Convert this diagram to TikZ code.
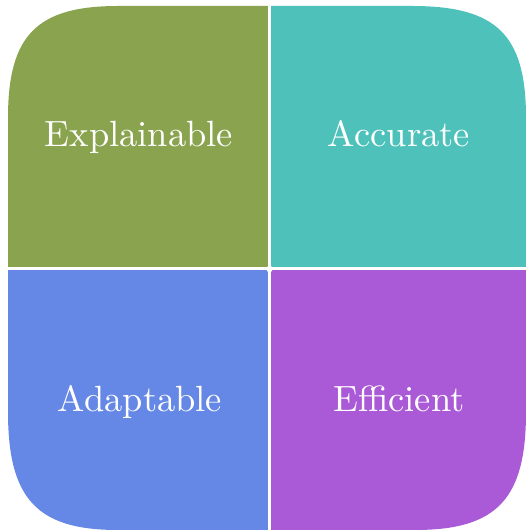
\documentclass[tikz,border=0pt]{standalone}
\begin{document}
\begin{tikzpicture}[x=1pt,y=1pt,
  label text/.style={text=white, scale=3.65, anchor=base, inner sep=0pt},
  divider/.style={white, line width=3pt}]
\definecolor{qgreen}{HTML}{8AA34F}
\definecolor{qteal}{HTML}{4DC1BA}
\definecolor{qblue}{HTML}{6587E5}
\definecolor{qpurple}{HTML}{AA5AD6}
\useasboundingbox (0,0) rectangle (526,530);
% outer rounded square with smooth (squircle-like) corners
\begin{scope}
  \clip (8,118) -- (8,412)
    .. controls (8,494) and (36,524) .. (118,524) -- (412,524)
    .. controls (497,524) and (526,495) .. (526,412) -- (526,118)
    .. controls (526,32) and (498,0) .. (415,0) -- (118,0)
    .. controls (38,0) and (8,30) .. (8,118) -- cycle;
  \fill[qgreen]  (0,261) rectangle (269.5,530);
  \fill[qteal]   (269.5,261) rectangle (526,530);
  \fill[qblue]   (0,0) rectangle (269.5,261);
  \fill[qpurple] (269.5,0) rectangle (526,261);
  \draw[divider] (269.5,-5) -- (269.5,535);
  \draw[divider] (-5,261) -- (531,261);
  \fill[white] (269.5,261) circle (3.2);
\end{scope}
\node[label text] (expl) at (139,383) {Explainable};
\node[label text] (accu) at (399,383) {Accurate};
\node[label text] (adap) at (140,118) {Adaptable};
\node[label text] (effi) at (399,118) {Efficient};
\end{tikzpicture}
\end{document}
